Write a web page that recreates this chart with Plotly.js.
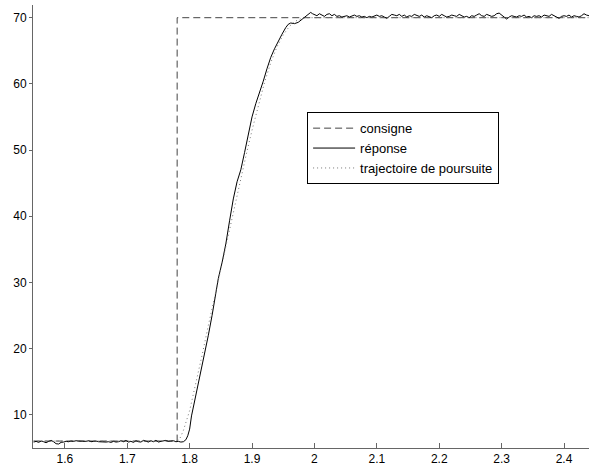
<!DOCTYPE html>
<html>
<head>
<meta charset="utf-8">
<script src="https://cdn.plot.ly/plotly-3.0.1.min.js"></script>
<style>html,body{margin:0;padding:0;background:#fff;}#chart{width:589px;height:474px;}</style>
</head>
<body>
<div id="chart"></div>
<script>
// consigne (setpoint step)
const consigneT = [1.55, 1.78, 1.78, 2.44];
const consigneV = [6, 6, 70, 70];

// réponse: noisy baseline before the step (sampled every 0.004 s from 1.55)
const preT0 = 1.55, preDt = 0.004;
const preV = [
  5.85,5.95,5.8,6.0,5.9,5.75,5.95,6.1,5.9,5.6,
  5.55,5.8,5.85,5.95,5.9,6.0,5.95,6.05,6.0,5.95,
  6.0,5.95,6.05,5.9,5.95,6.0,5.9,5.85,5.9,5.85,
  5.9,5.8,5.95,5.85,5.9,6.05,5.9,6.1,5.85,5.95,
  5.8,6.05,5.9,5.85,6.1,5.95,5.85,6.05,5.9,6.1,
  5.85,5.95,6.05,6.1,5.95,6.0,6.05,5.9,5.95,5.85
];
// réponse: rise
const riseT = [1.79,1.794,1.797,1.80,1.803,1.807,1.812,1.818,1.824,1.83,1.836,1.842,1.846,1.852,1.858,1.864,1.87,1.876,1.882,1.888,1.894,1.90,1.906,1.912,1.918,1.924,1.93,1.936,1.942,1.948,1.954,1.958,1.962,1.968,1.974,1.978,1.982,1.986,1.99,1.994,1.997];
const riseV = [5.9,6.2,6.8,7.8,9.8,11.6,13.8,16.5,19.2,22.0,25.0,28.5,30.6,33.0,35.8,39.3,42.6,45.2,47.0,49.6,52.4,55.0,57.0,58.6,60.4,62.3,64.0,65.3,66.5,67.5,68.5,69.0,69.2,69.1,69.3,69.6,69.9,70.2,70.5,70.8,70.6];
// réponse: noisy plateau after the rise (sampled every 0.004 s from 2.0)
const postT0 = 2.0, postDt = 0.004;
const postV = [
  70.5,70.3,70.6,70.4,70.2,70.5,70.6,70.3,70.5,70.2,
  70.3,70.1,70.2,70.3,70.1,70.2,70.4,70.2,70.3,70.1,
  70.2,70.0,70.2,70.1,70.3,70.4,70.2,70.3,70.1,69.9,
  70.2,70.5,70.4,70.3,70.5,70.2,70.4,70.1,70.3,70.2,
  70.5,70.3,70.2,70.4,70.1,70.3,70.2,70.0,70.3,70.4,
  70.2,70.5,70.3,70.1,70.2,70.4,70.3,70.2,70.5,70.3,
  70.1,70.2,70.0,70.3,70.2,70.4,70.6,70.3,70.2,70.5,
  70.4,70.2,70.3,70.6,70.7,70.4,70.0,69.8,70.1,70.3,
  70.2,70.1,70.3,70.2,70.4,70.1,70.2,70.0,70.3,70.2,
  70.3,70.1,70.4,70.3,70.2,70.5,70.3,70.1,69.9,70.2,
  70.3,70.2,70.4,70.1,70.3,70.2,70.1,70.3,70.6,70.4,
  70.3
];

// trajectoire de poursuite
const trajT = [1.55,1.78,1.784,1.79,1.80,1.81,1.82,1.83,1.84,1.85,1.86,1.87,1.88,1.89,1.90,1.91,1.92,1.93,1.94,1.95,1.96,1.97,1.98,1.99,2.44];
const trajV = [6,6,6.3,7.6,10.6,14.6,19.0,23.5,27.8,32.0,36.3,40.6,44.9,49.0,53.0,56.8,60.2,63.2,65.6,67.4,68.7,69.5,69.9,70.0,70.0];

const xTickVals = [1.6,1.7,1.8,1.9,2,2.1,2.2,2.3,2.4];
const xTickText = ['1.6','1.7','1.8','1.9','2','2.1','2.2','2.3','2.4'];
const yTickVals = [10,20,30,40,50,60,70];
const yTickText = ['10','20','30','40','50','60','70'];
const seriesNames = ['consigne','réponse','trajectoire de poursuite'];

const repT = preV.map((_, i) => +(preT0 + i * preDt).toFixed(4))
  .concat(riseT)
  .concat(postV.map((_, i) => +(postT0 + i * postDt).toFixed(4)));
const repV = preV.concat(riseV).concat(postV);

const traces = [
  {x: consigneT, y: consigneV, name: seriesNames[0], mode: 'lines',
   line: {color: '#444', width: 1, dash: '7px,4px'}},
  {x: repT, y: repV, name: seriesNames[1], mode: 'lines',
   line: {color: '#000', width: 1}},
  {x: trajT, y: trajV, name: seriesNames[2], mode: 'lines',
   line: {color: '#777', width: 1, dash: '1px,3px'}}
];

const font = {family: 'Liberation Sans, Arial, sans-serif', size: 12, color: '#000'};
const legendFont = {family: 'Liberation Sans, Arial, sans-serif', size: 13, color: '#000'};
const layout = {
  width: 589, height: 474,
  margin: {l: 33, r: 0, t: 5, b: 26, pad: 0},
  paper_bgcolor: '#fff', plot_bgcolor: '#fff',
  font: font,
  showlegend: true,
  legend: {x: 0.493, y: 0.758, xanchor: 'left', yanchor: 'top',
           bgcolor: '#fff', bordercolor: '#000', borderwidth: 1,
           font: legendFont, tracegroupgap: 0, itemwidth: 42},
  xaxis: {range: [1.549, 2.44], tickvals: xTickVals, ticktext: xTickText,
          showgrid: false, zeroline: false, showline: true, linecolor: '#666', linewidth: 1,
          ticks: 'inside', ticklen: 5, tickcolor: '#666', mirror: false, tickfont: font},
  yaxis: {range: [4.95, 71.92], tickvals: yTickVals, ticktext: yTickText,
          showgrid: false, zeroline: false, showline: true, linecolor: '#666', linewidth: 1,
          ticks: 'outside', ticklen: 3, tickcolor: '#666', mirror: false, tickfont: font}
};

Plotly.newPlot('chart', traces, layout, {staticPlot: true, displayModeBar: false});
</script>
</body>
</html>
